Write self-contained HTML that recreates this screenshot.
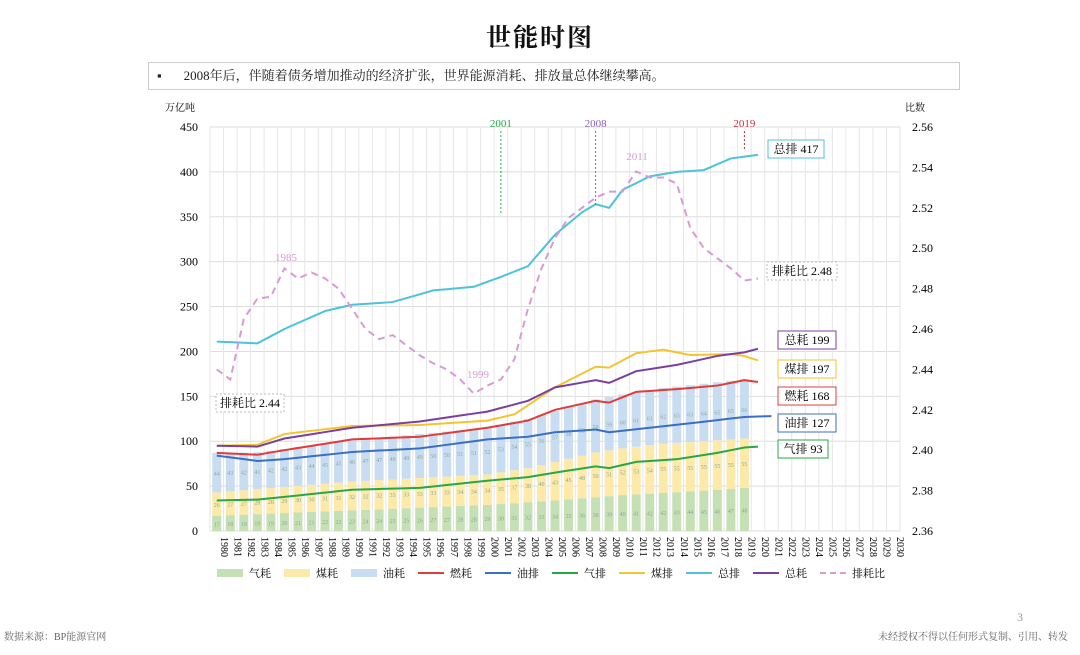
<!DOCTYPE html>
<html><head><meta charset="utf-8">
<style>
body{margin:0;width:1080px;height:655px;background:#fff;font-family:"Liberation Serif","Noto Serif CJK SC",serif;overflow:hidden;position:relative}
.t{position:absolute;left:0;width:1080px;top:18px;text-align:center;font-size:25px;font-weight:bold;letter-spacing:2px;color:#111;font-family:"Liberation Serif","Noto Serif CJK SC",serif}
.box{position:absolute;left:148px;top:62px;width:810px;height:26px;border:1px solid #ccc;font-size:13px;line-height:26px;color:#222}
</style></head><body>
<div class="t">世能时图</div>
<div class="box"><span style="margin-left:8px">▪</span><span style="margin-left:22px">2008年后，伴随着债务增加推动的经济扩张，世界能源消耗、排放量总体继续攀高。</span></div>
<svg id="s" width="1080" height="655" style="position:absolute;left:0;top:0"></svg>
<div style="position:absolute;left:4px;top:628px;font-size:10px;color:#666">数据来源：BP能源官网</div>
<div style="position:absolute;right:12px;top:628px;font-size:10px;color:#666">未经授权不得以任何形式复制、引用、转发</div>
<div style="position:absolute;left:1017px;top:610px;font-size:12px;color:#999">3</div>
<script>
const L=210,R=900,T=127,B=531,N=51,W=(R-L)/N;
const X=i=>L+(i+0.5)*W, Y=v=>B-v/450*(B-T), Y2=v=>T+(2.56-v)/0.2*(B-T);
let h='';
// grid
for(let k=0;k<=9;k++){h+=`<line x1="${L}" x2="${R}" y1="${Y(k*50)}" y2="${Y(k*50)}" stroke="#ddd"/>`;
h+=`<text x="${L-12}" y="${Y(k*50)+4}" font-size="12" text-anchor="end">${k*50}</text>`;}
for(let k=0;k<=10;k++){const v=2.36+k*0.02;h+=`<text x="${R+12}" y="${Y2(v)+4}" font-size="12">${v.toFixed(2)}</text>`;}
for(let i=0;i<=N;i++)h+=`<line x1="${L+i*W}" x2="${L+i*W}" y1="${T}" y2="${B}" stroke="#e6e6e6"/>`;
h+=`<text x="165" y="111" font-size="10">万亿吨</text><text x="905" y="111" font-size="10">比数</text>`;
function interp(pts){const a=[];for(let i=0;i<pts.length-1;i++){const[y0,v0]=pts[i],[y1,v1]=pts[i+1];for(let y=y0;y<y1;y++)a.push([y,v0+(v1-v0)*(y-y0)/(y1-y0)]);}a.push(pts[pts.length-1]);return a;}
// bars
const gas=interp([[1980,17],[1990,23],[2000,29],[2005,34],[2010,40],[2015,44],[2019,48]]);
const coal=interp([[1980,26],[1990,32],[2000,34],[2003,38],[2008,50],[2013,55],[2019,55]]);
const oil=interp([[1980,44],[1983,41],[1990,46],[2000,52],[2005,57],[2010,60],[2019,66]]);
for(let i=0;i<40;i++){const x=X(i)-4.5;const g=gas[i][1],c=coal[i][1],o=oil[i][1];
h+=`<rect x="${x}" y="${Y(g)}" width="9" height="${Y(0)-Y(g)}" fill="#c5e0b4"/>`;
h+=`<rect x="${x}" y="${Y(g+c)}" width="9" height="${Y(g)-Y(g+c)}" fill="#fde9a8"/>`;
h+=`<rect x="${x}" y="${Y(g+c+o)}" width="9" height="${Y(g+c)-Y(g+c+o)}" fill="#c9ddf2"/>`;
[[g/2,g],[g+c/2,c],[g+c+o/2,o]].forEach(([p,v])=>h+=`<text x="${X(i)}" y="${Y(p)+3}" font-size="6" text-anchor="middle" fill="#8a9">${Math.round(v)}</text>`);}
function line(pts,col,f,extra){const a=interp(pts);h+=`<polyline fill="none" stroke="${col}" stroke-width="${extra||2}" points="${a.map(([y,v])=>X(y-1980)+','+f(v)).join(' ')}" ${extra?'stroke-dasharray="7,5"':''}/>`;}
line([[1980,211],[1983,209],[1985,225],[1988,245],[1990,252],[1993,255],[1996,268],[1999,272],[2001,283],[2003,295],[2005,330],[2007,355],[2008,364],[2009,360],[2010,380],[2012,395],[2014,400],[2016,402],[2018,415],[2019,417],[2020,419]],'#4cc3d9',Y);
line([[1980,95],[1983,96],[1985,108],[1990,117],[1995,118],[2000,123],[2002,130],[2005,160],[2008,183],[2009,182],[2011,198],[2013,202],[2015,196],[2018,197],[2019,195],[2020,190]],'#f2c530',Y);
line([[1980,95],[1983,94],[1985,103],[1990,115],[1995,122],[2000,133],[2003,145],[2005,160],[2008,168],[2009,165],[2011,178],[2014,185],[2017,195],[2019,199],[2020,203]],'#7b3fa0',Y);
line([[1980,87],[1983,85],[1985,90],[1990,102],[1995,105],[2000,115],[2003,123],[2005,135],[2008,145],[2009,143],[2011,155],[2014,158],[2017,162],[2019,168],[2020,166]],'#e03c3c',Y);
line([[1980,84],[1983,78],[1985,80],[1990,88],[1995,92],[2000,102],[2003,105],[2005,110],[2008,113],[2009,110],[2012,115],[2015,120],[2019,127],[2021,128]],'#3b6fc0',Y);
line([[1980,34],[1983,35],[1985,38],[1990,46],[1995,48],[2000,56],[2003,60],[2005,65],[2008,72],[2009,70],[2011,77],[2014,80],[2017,87],[2019,93],[2020,94]],'#27a844',Y);
line([[1980,2.44],[1981,2.435],[1982,2.465],[1983,2.475],[1984,2.476],[1985,2.49],[1986,2.485],[1987,2.488],[1988,2.485],[1989,2.48],[1990,2.47],[1991,2.46],[1992,2.455],[1993,2.457],[1994,2.452],[1995,2.447],[1996,2.443],[1997,2.44],[1998,2.435],[1999,2.428],[2000,2.432],[2001,2.435],[2002,2.445],[2003,2.47],[2004,2.49],[2005,2.505],[2006,2.515],[2007,2.52],[2008,2.525],[2009,2.528],[2010,2.528],[2011,2.538],[2012,2.535],[2013,2.535],[2014,2.532],[2015,2.51],[2016,2.5],[2017,2.495],[2018,2.49],[2019,2.484],[2020,2.485]],'#d99ad6',Y2,2);
// annotations
[[2001,'#27a844',215,'2001'],[2008,'#8b5fbf',205,'2008'],[2019,'#c0303a',150,'2019']].forEach(([y,c,e,t])=>{h+=`<text x="${X(y-1980)}" y="127" font-size="11" fill="${c}" text-anchor="middle">${t}</text><line x1="${X(y-1980)}" x2="${X(y-1980)}" y1="131" y2="${e}" stroke="${c}" stroke-dasharray="2,2"/>`;});
h+=`<text x="286" y="261" font-size="11" fill="#d99ad6" text-anchor="middle">1985</text><text x="478" y="378" font-size="11" fill="#d99ad6" text-anchor="middle">1999</text><text x="637" y="160" font-size="11" fill="#d99ad6" text-anchor="middle">2011</text>`;
function lab(x,y,w,t,c,d){h+=`<rect x="${x}" y="${y}" width="${w}" height="18" fill="#fff" stroke="${c}" ${d?'stroke-dasharray="2,2"':''}/><text x="${x+w/2}" y="${y+13}" font-size="12" text-anchor="middle">${t}</text>`;}
lab(216,394,68,'排耗比 2.44','#bbb',1);lab(767,262,70,'排耗比 2.48','#bbb',1);
lab(768,140,56,'总排 417','#4cc3d9');lab(778,331,58,'总耗 199','#7b3fa0');lab(778,360,58,'煤排 197','#f2c530');
lab(778,387,58,'燃耗 168','#e03c3c');lab(778,414,58,'油排 127','#3b6fc0');lab(778,440,50,'气排 93','#27a844');
for(let i=0;i<N;i++)h+=`<text transform="translate(${X(i)+4},${537}) rotate(90)" font-size="10">${1980+i}</text>`;
const lg=[['气耗','#c5e0b4',8],['煤耗','#fde9a8',8],['油耗','#c9ddf2',8],['燃耗','#e03c3c',2],['油排','#3b6fc0',2],['气排','#27a844',2],['煤排','#f2c530',2],['总排','#4cc3d9',2],['总耗','#7b3fa0',2],['排耗比','#d99ad6',2]];
lg.forEach(([t,c,w],k)=>{const x=217+k*67;h+=`<line x1="${x}" x2="${x+26}" y1="573" y2="573" stroke="${c}" stroke-width="${w}" ${t=='排耗比'?'stroke-dasharray="6,4"':''}/><text x="${x+32}" y="577" font-size="11">${t}</text>`;});
document.getElementById('s').innerHTML=h;
</script>
</body></html>
